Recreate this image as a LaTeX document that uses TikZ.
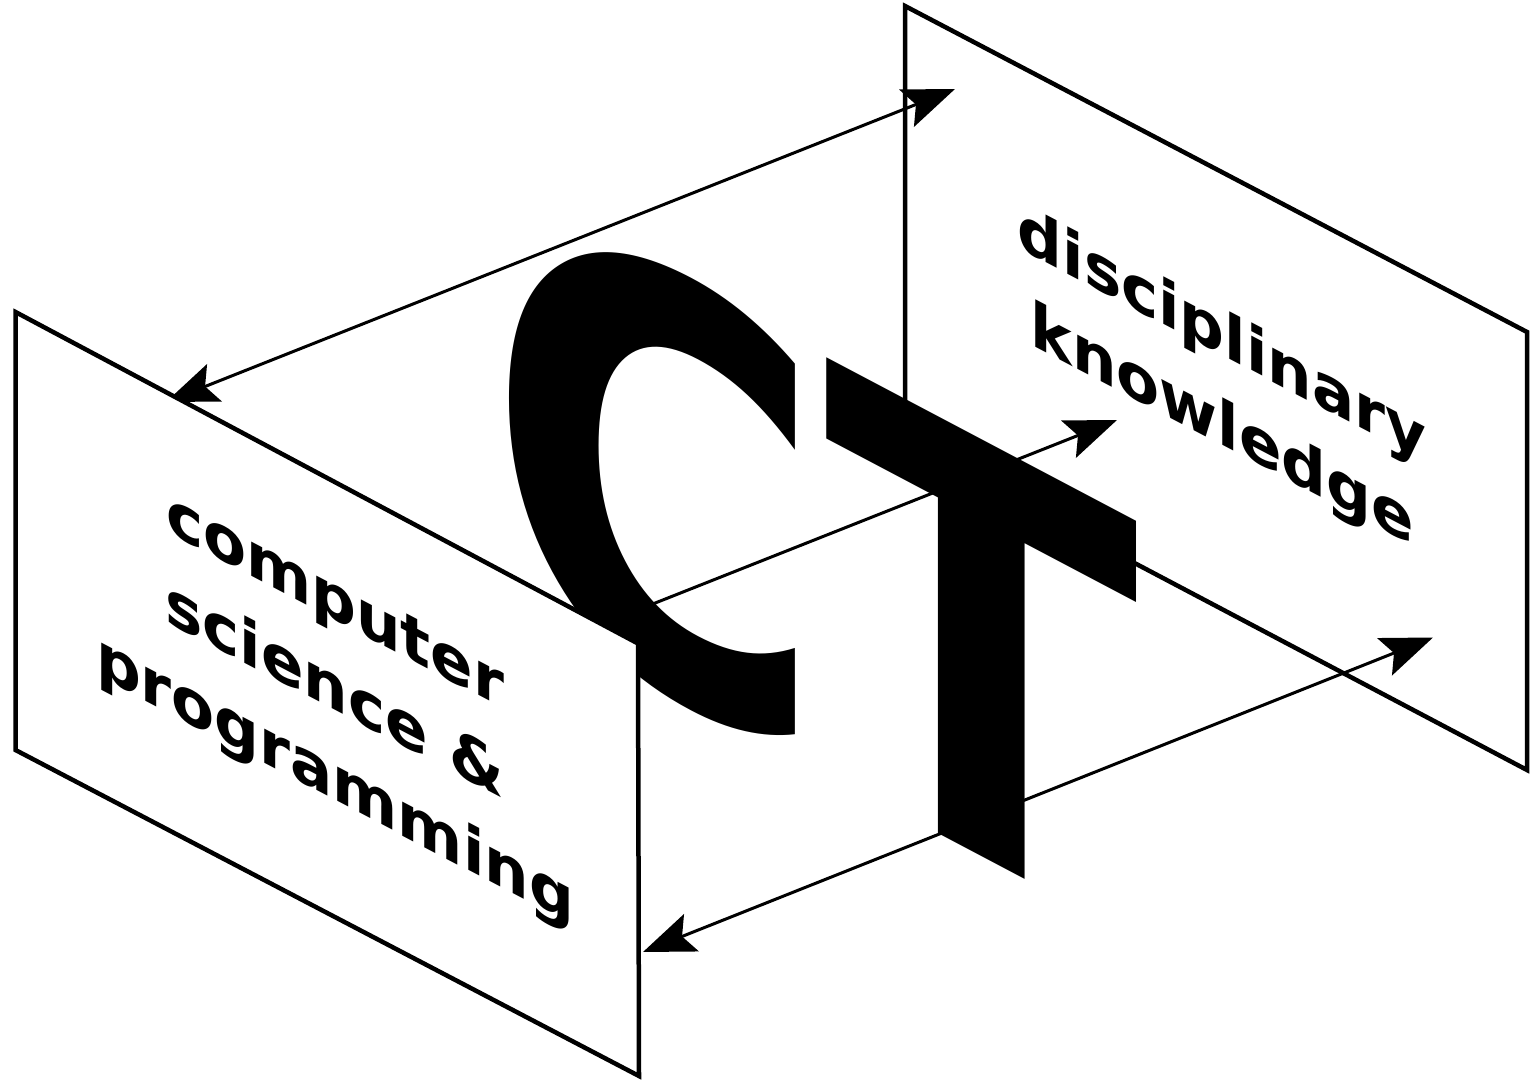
\documentclass[tikz,border=0pt]{standalone}
\usepackage{fontspec}
\setmainfont{DejaVu Sans}
\usetikzlibrary{arrows.meta}
\tikzset{
  myhead/.tip={Stealth[length=26pt,width=20pt,inset=5pt]},
  panel/.style={draw=black, fill=white, line width=2.25pt, line join=miter},
  link/.style={draw=black, line width=1.5pt},
  paneltext/.style={inner sep=0pt, outer sep=0pt, anchor=base, transform shape,
    font=\fontsize{31.3}{37}\selectfont\bfseries},
  bigtext/.style={inner sep=0pt, outer sep=0pt, anchor=base west, transform shape,
    font=\fontsize{286}{286}\selectfont\bfseries},
}
\begin{document}
\begin{tikzpicture}[x=0.5pt,y=-0.5pt]
\useasboundingbox (0,0) rectangle (1531,1080);
% right panel (behind everything)
\coordinate (rTL) at (905,6);
\coordinate (rTR) at (1527,332);
\coordinate (rBR) at (1527,770);
\coordinate (rBL) at (905,442);
\draw[panel] (rTL) -- (rTR) -- (rBR) -- (rBL) -- cycle;
% connectors
\coordinate (a1s) at (166,402);
\coordinate (a1e) at (955,89);
\draw[link, myhead-myhead] (a1s) -- (a1e);
\coordinate (a2s) at (630,613);
\coordinate (a2e) at (1117,420);
\draw[link, -myhead] (a2s) -- (a2e);
\coordinate (a3s) at (643,952);
\coordinate (a3e) at (1433,637.5);
\draw[link, myhead-myhead] (a3s) -- (a3e);
% CT
\begin{scope}[shift={(486,594.5)}, cm={0.806,-0.4256,0,1,(0,0)}]
  \node[bigtext] (ct) at (0,0) {CT};
\end{scope}
% left panel (in front)
\coordinate (lTL) at (15.5,312);
\coordinate (lTR) at (638,643.5);
\coordinate (lBR) at (639,1076);
\coordinate (lBL) at (15.5,750);
\draw[panel] (lTL) -- (lTR) -- (lBR) -- (lBL) -- cycle;
% left panel text
\begin{scope}[shift={(335,620)}, yslant=-0.525]
  \node[paneltext] (l1) at (0,0) {computer};
  \node[paneltext] (l2) at (0,90) {science \&};
  \node[paneltext] (l3) at (0,180) {programming};
\end{scope}
% right panel text
\begin{scope}[shift={(1222,355)}, yslant=-0.525]
  \node[paneltext] (r1) at (0,0) {disciplinary};
  \node[paneltext] (r2) at (0,90) {knowledge};
\end{scope}
\end{tikzpicture}
\end{document}
